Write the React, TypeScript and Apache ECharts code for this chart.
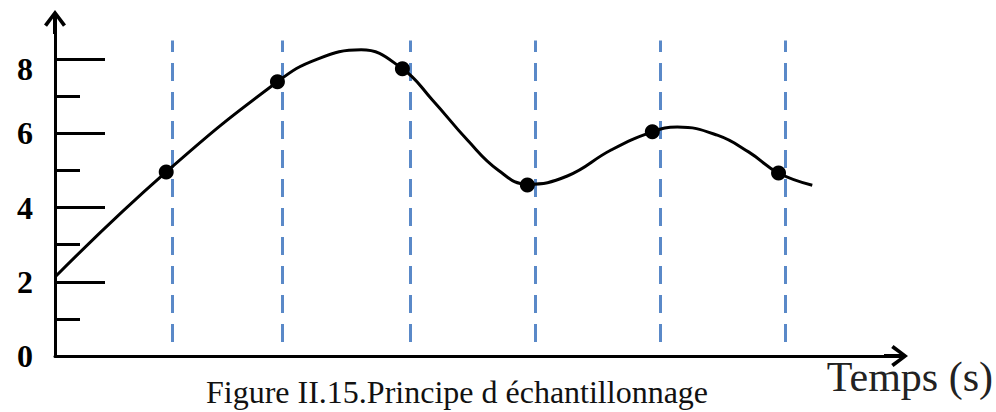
import React, { useEffect, useRef } from 'react';
import * as echarts from 'echarts';

// Continuous signal (time in arbitrary units, amplitude)
const curveTime = [0, 0.89, 1.78, 2.1, 2.45, 2.78, 3.02, 3.3, 3.55, 3.78, 4.1, 4.45, 4.78, 4.98, 5.3, 5.55, 5.79, 6.06];
const curveValue = [2.13, 4.96, 7.39, 8.0, 8.25, 7.74, 6.9, 5.82, 5.0, 4.63, 4.85, 5.55, 6.04, 6.17, 5.95, 5.5, 4.93, 4.6];

// Sampling instants (dashed lines) and sampled values (dots)
const sampleTimes = [0.94, 1.82, 2.84, 3.84, 4.84, 5.84];
const sampleX = [0.89, 1.78, 2.78, 3.78, 4.78, 5.79];
const sampleY = [4.96, 7.39, 7.74, 4.61, 6.04, 4.93];
const dashRange = [0.38, 8.5];

// Axis ticks / labels
const yLabelValues = [0, 2, 4, 6, 8];
const majorTicks = [2, 4, 6, 8];
const minorTicks = [1, 3, 5, 7];
const xMax = 6.73;
const yMax = 9;

const xAxisName = 'Temps (s)';
const caption = 'Figure II.15.Principe d échantillonnage';

export default function App() {
  const ref = useRef<HTMLDivElement>(null);
  useEffect(() => {
    const chart = echarts.init(ref.current as HTMLDivElement, null, { renderer: 'svg' });
    const serif = "'Liberation Serif', 'Times New Roman', Times, serif";
    const arrow = 'path://M11,0 L22,14.5 L19,16.8 L13,8.5 L13,24 L9,24 L9,8.5 L3,16.8 L0,14.5 Z';
    chart.setOption({
      animation: false,
      grid: { left: 55, right: 100, top: 22, bottom: 56, containLabel: false, outerBoundsMode: 'none' },
      xAxis: {
        type: 'value',
        min: 0,
        max: xMax,
        axisLine: {
          show: true,
          onZero: false,
          lineStyle: { color: '#000', width: 3 },
          symbol: ['none', arrow],
          symbolSize: [22, 24],
        },
        axisTick: { show: false },
        axisLabel: { show: false },
        splitLine: { show: false },
        name: xAxisName,
        nameLocation: 'end',
        nameGap: 97,
        nameTextStyle: {
          fontFamily: serif,
          fontSize: 42,
          color: '#222',
          align: 'right',
          verticalAlign: 'top',
        },
      },
      yAxis: [
        {
          type: 'value',
          min: 0,
          max: yMax,
          position: 'left',
          axisLine: {
            show: true,
            onZero: false,
            lineStyle: { color: '#000', width: 3 },
            symbol: ['none', arrow],
            symbolSize: [22, 24],
          },
          axisTick: {
            show: true,
            inside: true,
            length: 50,
            customValues: majorTicks,
            lineStyle: { color: '#000', width: 3 },
          },
          axisLabel: {
            show: true,
            customValues: yLabelValues,
            fontFamily: serif,
            fontWeight: 'bold',
            fontSize: 32,
            color: '#000',
            margin: 22,
            formatter: (v: number) => (v === 8 ? '{low|8}' : String(v)),
            rich: {
              low: {
                fontFamily: serif,
                fontWeight: 'bold',
                fontSize: 32,
                color: '#000',
                padding: [20, 0, 0, 0],
              },
            },
          },
          splitLine: { show: false },
        },
        {
          type: 'value',
          min: 0,
          max: yMax,
          position: 'left',
          axisLine: { show: false },
          axisTick: {
            show: true,
            inside: true,
            length: 25,
            customValues: minorTicks,
            lineStyle: { color: '#000', width: 3 },
          },
          axisLabel: { show: false },
          splitLine: { show: false },
        },
      ],
      series: [
        {
          type: 'line',
          data: curveTime.map((t, i) => [t, curveValue[i]]),
          smooth: 0.45,
          symbol: 'none',
          lineStyle: { color: '#000', width: 3 },
          z: 3,
          silent: true,
        },
        {
          type: 'scatter',
          data: sampleX.map((t, i) => [t, sampleY[i]]),
          symbolSize: 15,
          itemStyle: { color: '#000', opacity: 1 },
          z: 4,
          silent: true,
          markLine: {
            z: 1,
            silent: true,
            symbol: ['none', 'none'],
            label: { show: false },
            lineStyle: { color: '#5a89c8', width: 3, type: [18, 11] },
            emphasis: { disabled: true },
            data: sampleTimes.map((t) => [
              { coord: [t, dashRange[0]] },
              { coord: [t, dashRange[1]] },
            ]),
          },
        },
      ],
      graphic: [
        {
          type: 'text',
          x: 457,
          y: 392,
          style: {
            text: caption,
            font: `32px ${serif}`,
            fill: '#111',
            align: 'center',
            verticalAlign: 'middle',
          },
        },
      ],
    });
    return () => chart.dispose();
  }, []);
  return <div ref={ref} style={{ position: 'absolute', left: 0, top: 0, width: 996, height: 412 }} />;
}
